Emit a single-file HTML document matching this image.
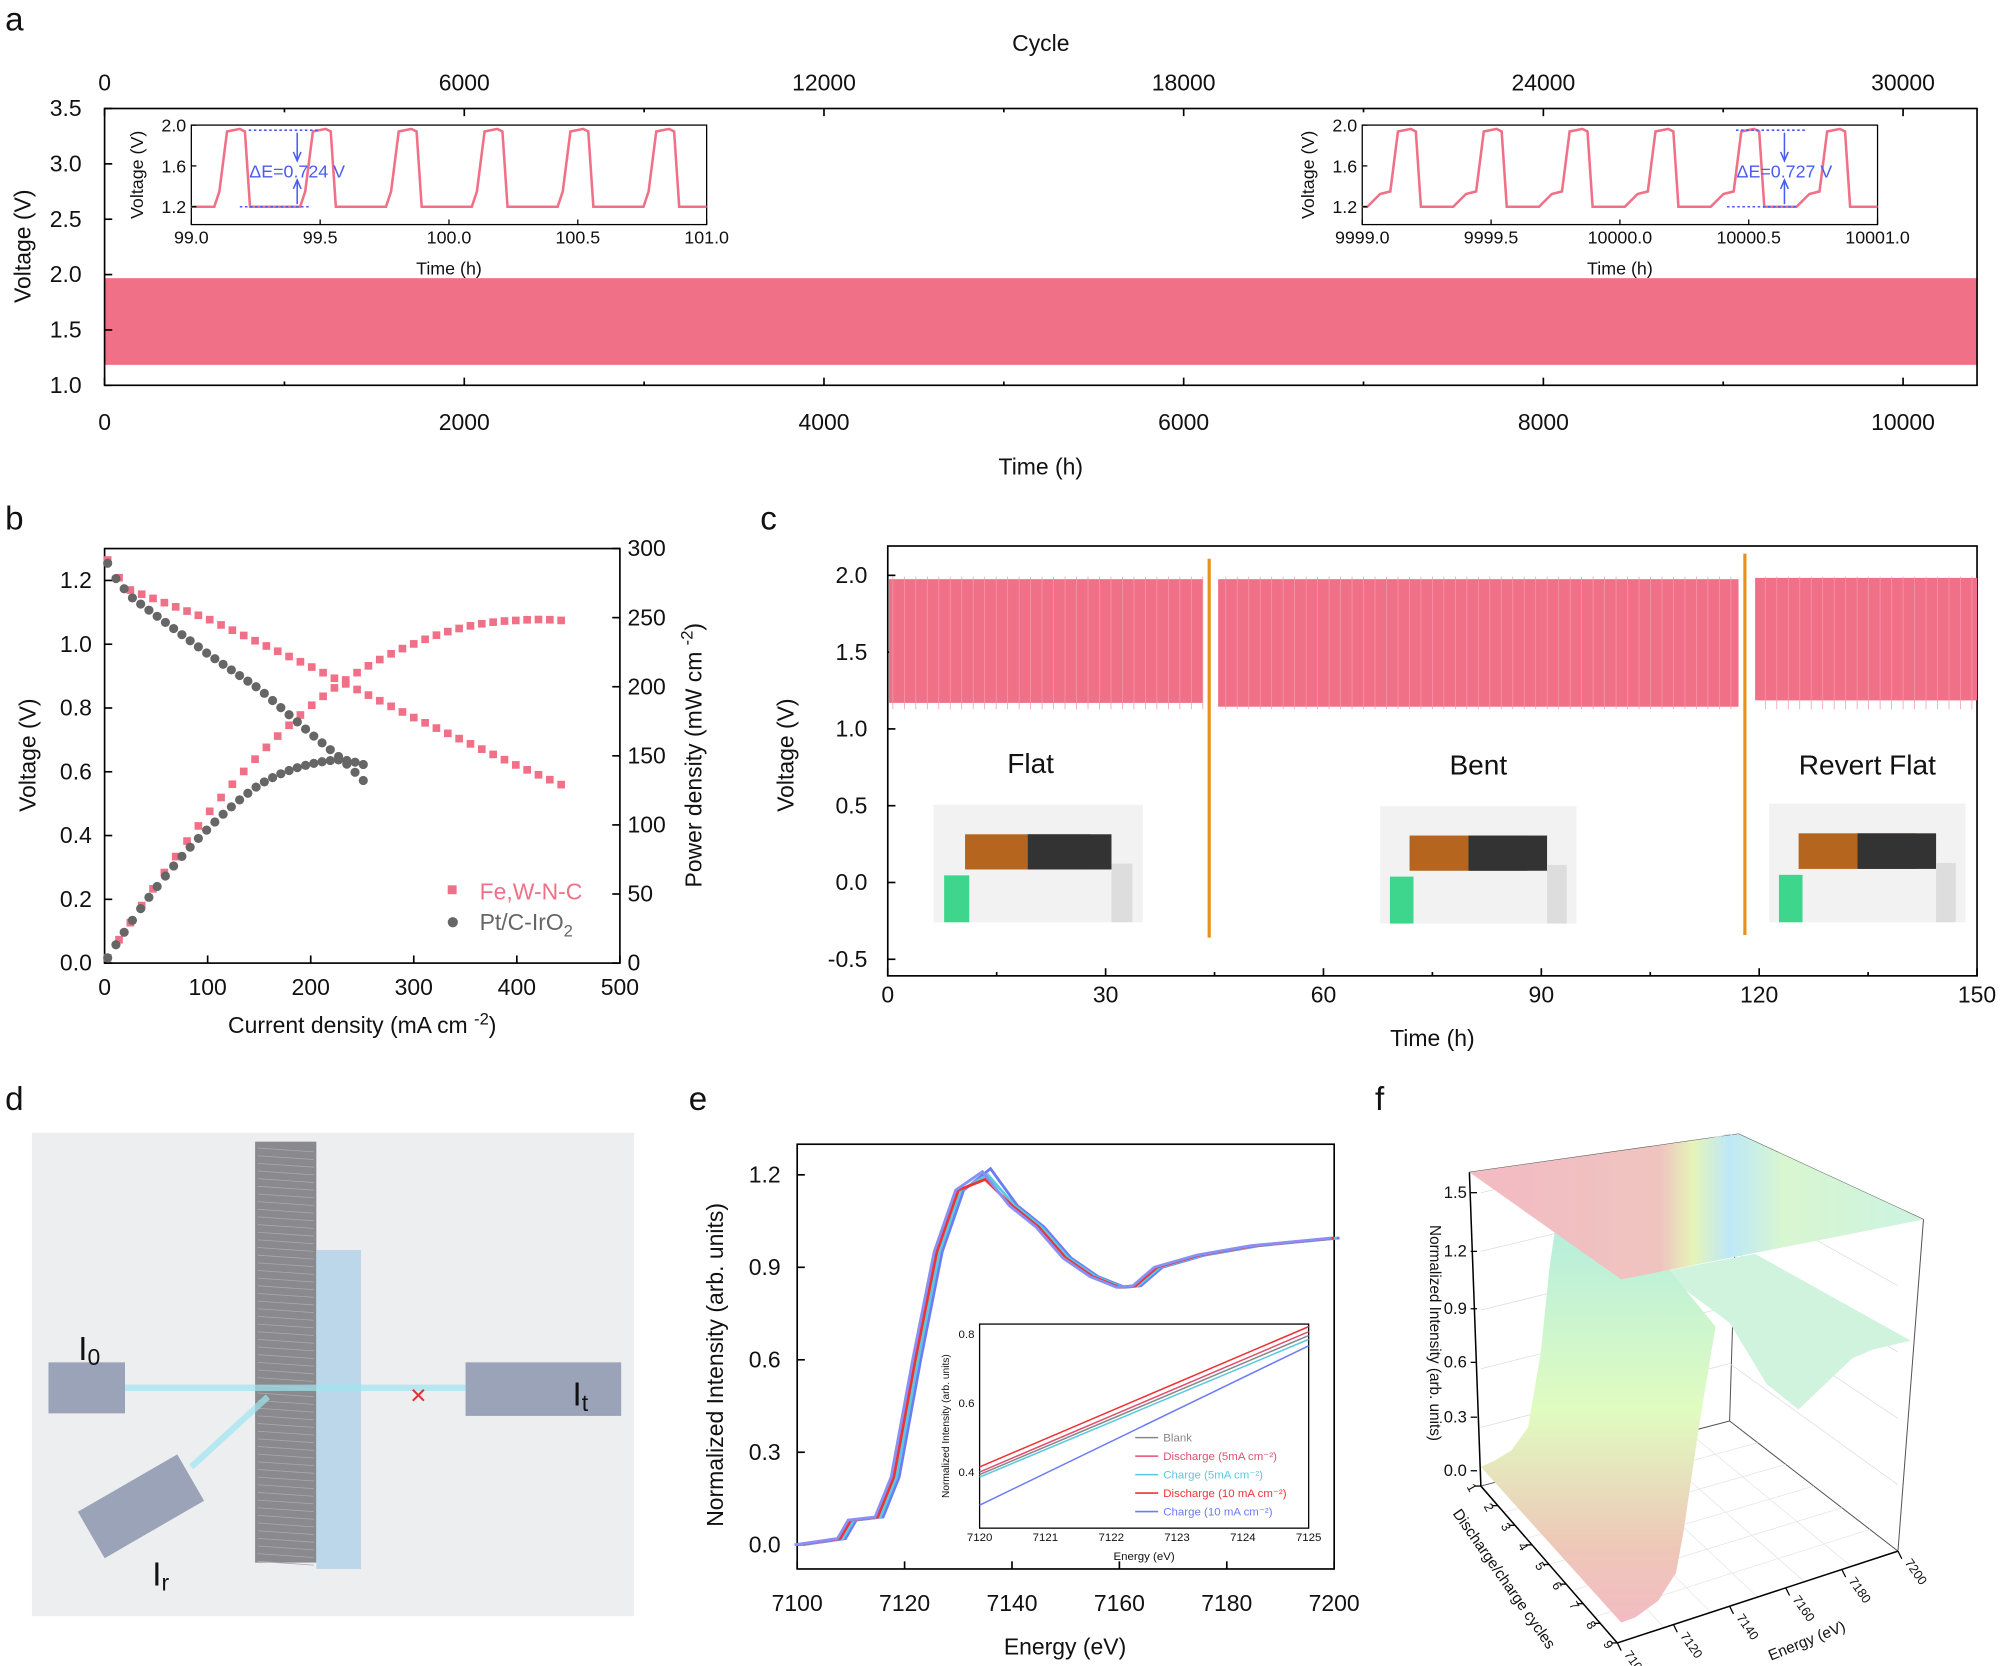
<!DOCTYPE html>
<html><head><meta charset="utf-8"><style>
html,body{margin:0;padding:0;background:#fff}
svg{display:block}
text{font-family:"Liberation Sans",Arial,sans-serif;fill:#111}
</style></head><body>
<svg id="s" width="2000" height="1666" viewBox="0 0 1568 1306" xmlns="http://www.w3.org/2000/svg">
<rect width="1568" height="1306" fill="#fff"/>
<g id="g"></g>
</svg>
<script>
const g=document.getElementById('g');let h='';
const P='#f07088',DG='#666';
function T(x,y,s,fs,a,extra){h+=`<text x="${x}" y="${y}" font-size="${fs||17}" text-anchor="${a||'middle'}" ${extra||''}>${s}</text>`;}
function L(x1,y1,x2,y2,c,w,extra){h+=`<line x1="${x1}" y1="${y1}" x2="${x2}" y2="${y2}" stroke="${c||'#000'}" stroke-width="${w||1.3}" ${extra||''}/>`;}
function R(x,y,w,hh,f,s,sw){h+=`<rect x="${x}" y="${y}" width="${w}" height="${hh}" fill="${f||'none'}" stroke="${s||'none'}" stroke-width="${sw||1.3}"/>`;}
function path(d,c,w,f){h+=`<path d="${d}" stroke="${c}" stroke-width="${w||1.5}" fill="${f||'none'}"/>`;}
T(4,24,'a',26,'start');T(4,415,'b',26,'start');T(596,415,'c',26,'start');T(4,870,'d',26,'start');T(540,870,'e',26,'start');T(1078,870,'f',26,'start');
// ===== Panel a
R(82,218,1468,68,P);
R(82,85,1468,217,'none','#000',1.3);
T(816,40,'Cycle',18);
for(let i=0;i<=5;i++){let x=82+i*282;T(x,71,i*6000,18);L(x,85,x,91);T(x,337,i*2000,18);L(x,302,x,296);}
for(let i=0;i<5;i++){let x=82+i*282+141;L(x,85,x,88);L(x,302,x,299);}
for(let i=0;i<=5;i++){let y=302-i*43.4;T(64,y+6,(1+i*0.5).toFixed(1),18,'end');L(82,y,88,y);}
T(816,372,'Time (h)',18);
T(24,193,'Voltage (V)',18,'middle','transform="rotate(-90 24 193)"');
function inset(x0,labels,dE,dx,shoulder){
 R(x0,98,404,78,'#fff','#000',1);
 let per=67.3,start=x0+18;
 let d=`M${x0} 162`;
 for(let k=0;k<6;k++){let s=start+k*per;
  if(shoulder){d+=` L${s-14} 162 L${s-4} 152`;}else d+=` L${s} 162`;
  d+=` L${s+4} 150 L${s+10} 103 L${s+20} 101 L${s+24} 103 L${s+28} 162`;}
 d+=` L${x0+404} 162`;
 path(d,P,2);
 [[98,'2.0'],[130,'1.6'],[162,'1.2']].forEach(([y,t])=>{T(x0-4,y+5,t,14,'end');L(x0,y,x0+4,y,'#000',1);});
 labels.forEach((t,i)=>{let x=x0+i*101;T(x,191,t,14);L(x,176,x,172,'#000',1);});
 T(x0+202,215,'Time (h)',14);
 T(x0-38,137,'Voltage (V)',14,'middle',`transform="rotate(-90 ${x0-38} 137)"`);
 let ax=x0+dx;
 L(ax-38,102,ax+18,102,'#4a5cf0',1.2,'stroke-dasharray="2,2"');L(ax-45,162,ax+10,162,'#4a5cf0',1.2,'stroke-dasharray="2,2"');
 L(ax,104,ax,125,'#4a5cf0',1.2);L(ax,142,ax,160,'#4a5cf0',1.2);
 path(`M${ax-3} 119 L${ax} 126 L${ax+3} 119`,'#4a5cf0',1.2);path(`M${ax-3} 148 L${ax} 141 L${ax+3} 148`,'#4a5cf0',1.2);
 h+=`<text x="${ax}" y="139" font-size="14" text-anchor="middle" style="fill:#4a5cf0">${dE}</text>`;
}
inset(150,['99.0','99.5','100.0','100.5','101.0'],'ΔE=0.724 V',83,false);
inset(1068,['9999.0','9999.5','10000.0','10000.5','10001.0'],'ΔE=0.727 V',331,true);
// ===== Panel b
R(82,430,404,325,'none','#000',1.3);
for(let i=0;i<=5;i++){let x=82+i*80.8;T(x,780,i*100,18);L(x,755,x,749);}
for(let i=0;i<=6;i++){let y=755-i*50;T(72,y+6,(i*0.2).toFixed(1),18,'end');L(82,y,88,y);}
for(let i=0;i<=6;i++){let y=755-i*54.17;T(492,y+6,i*50,18,'start');L(486,y,480,y);}
T(284,810,'Current density (mA cm <tspan dy="-7" font-size="13">-2</tspan><tspan dy="7">)</tspan>',18);
T(28,592,'Voltage (V)',18,'middle','transform="rotate(-90 28 592)"');
T(550,592,'Power density (mW cm <tspan dy="-7" font-size="13">-2</tspan><tspan dy="7">)</tspan>',18,'middle','transform="rotate(-90 550 592)"');
function interp(pts,x){for(let i=0;i<pts.length-1;i++){if(x<=pts[i+1][0]){let [a,b]=pts[i],[c,d]=pts[i+1];return b+(d-b)*(x-a)/(c-a);}}return pts[pts.length-1][1];}
const fe=[[0,1.3],[5,1.24],[25,1.17],[100,1.08],[200,0.93],[300,0.77],[400,0.62],[450,0.55]];
const pt=[[0,1.29],[5,1.23],[25,1.15],[100,0.97],[150,0.86],[200,0.72],[230,0.64],[255,0.56]];
function bx(j){return 82+j*0.808;}function byV(v){return 755-v*250;}function byP(p){return 755-p*1.0833;}
for(let j=3;j<=450;j+=11){let v=interp(fe,j);R(bx(j)-3,byV(v)-3,6,6,P);R(bx(j)-3,byP(j*v)-3,6,6,P);}
for(let j=3;j<=255;j+=8){let v=interp(pt,j);h+=`<circle cx="${bx(j)}" cy="${byV(v)}" r="3.6" fill="${DG}"/><circle cx="${bx(j)}" cy="${byP(j*v)}" r="3.6" fill="${DG}"/>`;}
R(351,694,7,7,P);h+=`<text x="376" y="705" font-size="18" style="fill:${P}">Fe,W-N-C</text>`;
h+=`<circle cx="355" cy="723" r="4" fill="${DG}"/><text x="376" y="729" font-size="18" style="fill:${DG}">Pt/C-IrO<tspan dy="5" font-size="13">2</tspan></text>`;
// ===== Panel c
R(696,428,854,337,'none','#000',1.3);
for(let i=0;i<=5;i++){let x=696+i*170.8;T(x,786,i*30,18);L(x,765,x,759);}
for(let i=0;i<5;i++){let x=696+i*170.8+85.4;L(x,765,x,762);}
for(let i=0;i<=5;i++){let y=752-i*60.2;T(680,y+6,(-0.5+i*0.5).toFixed(1),18,'end');L(696,y,702,y);}
T(1123,820,'Time (h)',18);
T(622,592,'Voltage (V)',18,'middle','transform="rotate(-90 622 592)"');
R(697,454,246,97,P);R(955,454,408,100,P);R(1376,453,174,96,P);
for(let x=700;x<1550;x+=9){if((x>943&&x<955)||(x>1363&&x<1376))continue;L(x,452,x,556,'#f598aa',0.6);}
L(948,438,948,735,'#e8901a',2.5);L(1368,434,1368,733,'#e8901a',2.5);
T(808,606,'Flat',22);T(1159,607,'Bent',22);T(1464,607,'Revert Flat',22);
function photo(x,y,w,hh){R(x,y,w,hh,'#f2f2f2');R(x+w*0.15,y+hh*0.25,w*0.6,hh*0.3,'#b5651d');R(x+w*0.45,y+hh*0.25,w*0.4,hh*0.3,'#333');R(x+w*0.05,y+hh*0.6,w*0.12,hh*0.4,'#3dd68c');R(x+w*0.85,y+hh*0.5,w*0.1,hh*0.5,'#ddd');}
photo(732,631,164,92);photo(1082,632,154,92);photo(1387,630,154,93);
// ===== Panel d
R(25,888,472,379,'#eceef0');
R(200,895,48,330,'#8a8a8e');R(248,980,35,250,'#bcd7ea');
for(let y=900;y<1225;y+=6)L(202,y,246,y+3,'#aaa',0.6);
R(38,1068,60,40,'#9aa3b8');R(365,1068,122,42,'#9aa3b8');
h+='<g transform="rotate(-30 110 1180)"><rect x="65" y="1160" width="90" height="42" fill="#9aa3b8"/></g>';
L(98,1088,365,1088,'#9ee6f0',5,'opacity="0.7"');L(150,1150,210,1095,'#9ee6f0',5,'opacity="0.7"');
T(70,1066,'I<tspan font-size="18" dy="4">0</tspan>',26);T(455,1102,'I<tspan font-size="18" dy="4">t</tspan>',26);T(126,1243,'I<tspan font-size="18" dy="4">r</tspan>',26);
h+=`<text x="328" y="1101" font-size="22" text-anchor="middle" style="fill:#e53030">×</text>`;
// ===== Panel e
R(625,897,421,333,'none','#000',1.3);
for(let i=0;i<=5;i++){let x=625+i*84.2;T(x,1263,7100+i*20,18);L(x,1230,x,1224);}
for(let i=0;i<=4;i++){let y=1211-i*72.5;T(612,y+6,(i*0.3).toFixed(1),18,'end');L(625,y,631,y);}
T(835,1297,'Energy (eV)',18);
T(567,1070,'Normalized Intensity (arb. units)',18,'middle','transform="rotate(-90 567 1070)"');
const xa=[[7100,0],[7108,0.02],[7110,0.08],[7115,0.09],[7118,0.22],[7122,0.6],[7126,0.95],[7130,1.15],[7135,1.2],[7140,1.1],[7145,1.03],[7150,0.93],[7155,0.87],[7160,0.835],[7163,0.84],[7167,0.9],[7175,0.94],[7185,0.97],[7200,0.995]];
[['#6b7cf5',1,0.02],['#5cc8e0',0.5,0],['#e33',0,-0.015],['#8890f8',-0.5,0.01]].forEach(([c,dx,dy])=>{let d=xa.map((p,i)=>(i?'L':'M')+(625+(p[0]-7100)*4.21+dx*4.21)+' '+(1211-(p[1]+(p[0]>7130&&p[0]<7140?dy:0))*241.7)).join(' ');path(d,c,2.2);});
R(768,1038,258,160,'#fff','#000',1);
for(let i=0;i<=5;i++){let x=768+i*51.6;T(x,1208,7120+i,9);}
[['0.4',1154],['0.6',1100],['0.8',1046]].forEach(([t,y])=>T(764,y+3,t,9,'end'));
T(897,1223,'Energy (eV)',9);T(744,1118,'Normalized Intensity (arb. units)',8,'middle','transform="rotate(-90 744 1118)"');
[['#e33',1150,1040],['#e05070',1154,1044],['#5cc8e0',1158,1050],['#888',1156,1047],['#6b7cf5',1180,1055]].forEach(([c,y1,y2])=>L(768,y1,1026,y2,c,1.2));
[['Blank','#888'],['Discharge (5mA cm⁻²)','#e05070'],['Charge (5mA cm⁻²)','#5cc8e0'],['Discharge (10 mA cm⁻²)','#e33'],['Charge (10 mA cm⁻²)','#6b7cf5']].forEach(([t,c],i)=>{let y=1127+i*14.5;L(890,y,908,y,c,1.2);h+=`<text x="912" y="${y+3}" font-size="9" style="fill:${c}">${t}</text>`;});
// ===== Panel f
h+=`<defs><linearGradient id="gf" gradientUnits="userSpaceOnUse" x1="1180" y1="0" x2="1500" y2="0"><stop offset="0" stop-color="#f2bcc2"/><stop offset="0.38" stop-color="#efc4c0"/><stop offset="0.46" stop-color="#e6f4b8"/><stop offset="0.55" stop-color="#bde8f8"/><stop offset="0.68" stop-color="#d8f6d0"/><stop offset="1" stop-color="#cdf3e0"/></linearGradient>
<linearGradient id="gv" gradientUnits="userSpaceOnUse" x1="0" y1="970" x2="0" y2="1270"><stop offset="0" stop-color="#b8eedc"/><stop offset="0.45" stop-color="#e0fcc0"/><stop offset="0.8" stop-color="#eec8b8"/><stop offset="1" stop-color="#f2bcc2"/></linearGradient></defs>`;
L(1356,1114,1363,889,'#555',0.8);L(1356,1114,1488,1216,'#555',0.8);L(1356,1114,1161,1165,'#555',0.8);
L(1488,1216,1508,956,'#555',0.8);L(1363,889,1508,956,'#555',0.8);L(1152,919,1363,889,'#555',0.8);
for(let i=1;i<6;i++){let y=1114-i*45;L(1356,y,1488,1216-i*52,'#ddd',0.6);L(1356,y,1161,1165-i*46,'#ddd',0.6);}
for(let i=1;i<6;i++){let t=i/6;L(1161+(1268-1161)*t,1165+(1288-1165)*t,1356+(1488-1356)*t,1114+(1216-1114)*t,'#e6e6e6',0.6);L(1268+(1488-1268)*t,1288-(1288-1216)*t,1161+(1356-1161)*t,1165-(1165-1114)*t,'#e6e6e6',0.6);}
path('M1302 997 L1376 983 L1498 1051 L1468 1058 L1452 1065 L1410 1105 L1385 1085 L1356 1037 Z','none',0,'#cff3dc');
path('M1161 1150 L1172 1145 L1185 1137 L1198 1119 L1208 1060 L1215 992 L1219 965 L1300 985 L1345 1040 L1335 1100 L1331 1125 L1320 1200 L1314 1233 L1300 1255 L1282 1268 L1271 1272 Z','none',0,'url(#gv)');
path('M1152 919 L1363 889 L1508 956 L1271 1003 Z','none',0,'url(#gf)');
L(1152,919,1161,1165,'#000',1.2);L(1161,1165,1268,1288,'#000',1.2);L(1268,1288,1488,1216,'#000',1.2);
[['1.5',935],['1.2',981],['0.9',1026],['0.6',1068],['0.3',1111],['0.0',1153]].forEach(([t,y])=>{T(1150,y+4,t,13,'end');L(1153,y,1158,y,'#000',1);});
T(1121,1045,'Normalized Intensity (arb. units)',12,'middle','transform="rotate(90 1121 1045)"');
for(let i=0;i<9;i++){let t=i/8,x=1161+(1268-1161)*t,y=1165+(1288-1165)*t;L(x,y,x-5,y,'#000',1);T(x-10,y+3,i+1,10,'middle',`transform="rotate(60 ${x-10} ${y+3})"`);}
T(1176,1240,'Discharge/charge cycles',12,'middle','transform="rotate(55 1176 1240)"');
for(let i=0;i<6;i++){let t=i/5,x=1268+(1488-1268)*t,y=1288-(1288-1216)*t;L(x,y,x+3,y+6,'#000',1);T(x+5,y+9,7100+i*20,10,'start',`transform="rotate(55 ${x+5} ${y+9})"`);}
T(1418,1290,'Energy (eV)',12,'middle','transform="rotate(-22 1418 1290)"');
g.innerHTML=h;
</script>
</body></html>
